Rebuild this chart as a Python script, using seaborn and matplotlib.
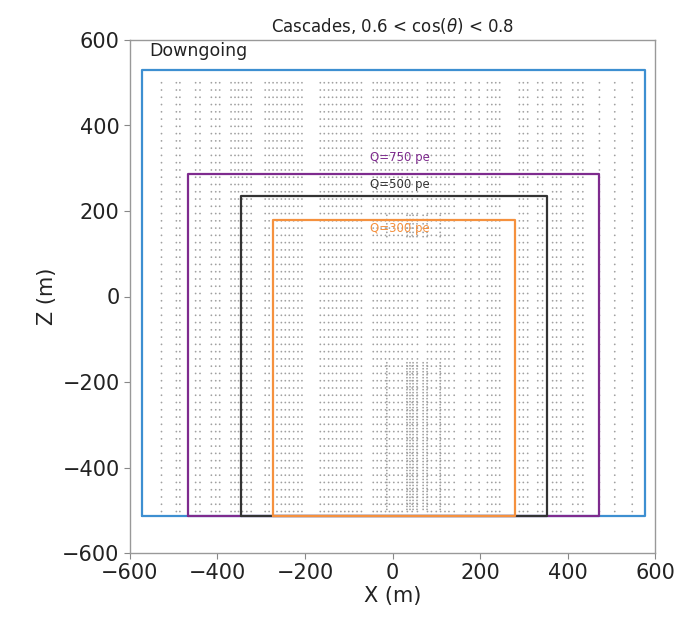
import numpy as np
import pandas as pd
import matplotlib
matplotlib.use("Agg")
import matplotlib.pyplot as plt
import seaborn as sns

# ---------------- data ----------------
# x positions (m) of the projected standard strings
STRING_X = [-528, -494, -486, -450, -440, -414, -404, -395, -369, -360, -352,
            -343, -333, -323, -291, -282, -273, -264, -254, -245, -236, -226,
            -216, -207, -165, -156, -146, -137, -128, -118, -109, -100, -91,
            -81, -71, -44, -35, -26, -16, -7, 3, 13, 22, 34, 45, 57, 80, 89,
            100, 110, 120, 129, 141, 167, 179, 198, 217, 227, 236, 245, 290,
            299, 309, 332, 343, 366, 375, 385, 412, 424, 435, 473, 508, 548]
# depths (m) of the DOMs on a standard string
DOM_Z = [500, 483, 466, 449, 432, 415, 398, 381, 364, 347, 330, 313, 296, 279,
         262, 245, 228, 211, 194, 177, 160, 143, 126, 109, 92, 75, 58, 41, 24,
         7, -10, -27, -44, -61, -78, -95, -112, -129, -146, -163, -180, -197,
         -214, -231, -248, -265, -282, -299, -316, -333, -350, -367, -384,
         -401, -418, -435, -452, -469, -486, -503]
# DeepCore strings
DC_X = [-13, 33, 40, 47, 56, 70, 79, 109]
DC_Z_LOW = [-155, -162, -169, -176, -183, -190, -197, -204, -211, -218, -225,
            -232, -239, -246, -253, -260, -267, -274, -281, -288, -295, -302,
            -309, -316, -323, -330, -337, -344, -351, -358, -365, -372, -379,
            -386, -393, -400, -407, -414, -421, -428, -435, -442, -449, -456,
            -463, -470, -477, -484, -491, -498]
DC_Z_UP = [190, 180, 170, 160, 150, 140]

# boxes: (left, right, bottom, top)
BOX_NAMES = ["Downgoing", "Q=750 pe", "Q=500 pe", "Q=300 pe"]
BOX_LEFT = [-573, -467, -347, -274]
BOX_RIGHT = [578, 472, 353, 279]
BOX_BOTTOM = [-513, -513, -513, -513]
BOX_TOP = [530, 287, 236, 179]
BOX_COLORS = ["#3d8fd1", "#7e2b8e", "#333333", "#f5913e"]
LABEL_Z = [324, 261, 160]

# ---------------- figure ----------------
sns.set_style("ticks")
plt.rcParams["font.family"] = ["DejaVu Sans"]

fig = plt.figure(figsize=(6.82, 6.19), dpi=100)
ax = fig.add_axes([130 / 682, 66 / 619, 525 / 682, 513 / 619])

rows = []
for x in STRING_X:
    for z in DOM_Z:
        rows.append((x, z))
for x in DC_X:
    for z in DC_Z_LOW + DC_Z_UP:
        rows.append((x, z))
doms = pd.DataFrame(rows, columns=["x", "z"])

sns.scatterplot(data=doms, x="x", y="z", ax=ax, s=1.6, color="#a0a0a0",
                edgecolor="none", linewidth=0, legend=False, zorder=1)

for i, name in enumerate(BOX_NAMES):
    l, r, b, t = BOX_LEFT[i], BOX_RIGHT[i], BOX_BOTTOM[i], BOX_TOP[i]
    bx = pd.DataFrame({"x": [l, r, r, l, l], "z": [b, b, t, t, b]})
    sns.lineplot(data=bx, x="x", y="z", ax=ax, sort=False, estimator=None,
                 color=BOX_COLORS[i], linewidth=1.6, zorder=3)

for i in range(1, 4):
    ax.text(17, LABEL_Z[i - 1], BOX_NAMES[i], color=BOX_COLORS[i],
            fontsize=8.5, ha="center", va="center", zorder=4)

ax.text(-555, 574, "Downgoing", fontsize=12.5, color="#222222",
        ha="left", va="center")

ax.set_xlim(-600, 600)
ax.set_ylim(-600, 600)
ax.set_xticks([-600, -400, -200, 0, 200, 400, 600])
ax.set_yticks([-600, -400, -200, 0, 200, 400, 600])
ax.tick_params(labelsize=15, color="#888888", labelcolor="#222222", length=4)
for sp in ax.spines.values():
    sp.set_color("#999999")
    sp.set_linewidth(1.0)
ax.set_xlabel("X (m)", fontsize=15, color="#222222", labelpad=2)
ax.set_ylabel("Z (m)", fontsize=15, color="#222222", labelpad=4)
ax.set_title(r"Cascades, 0.6 < cos($\theta$) < 0.8", fontsize=12,
             color="#222222", pad=6)

fig.savefig("out.png", dpi=100)
